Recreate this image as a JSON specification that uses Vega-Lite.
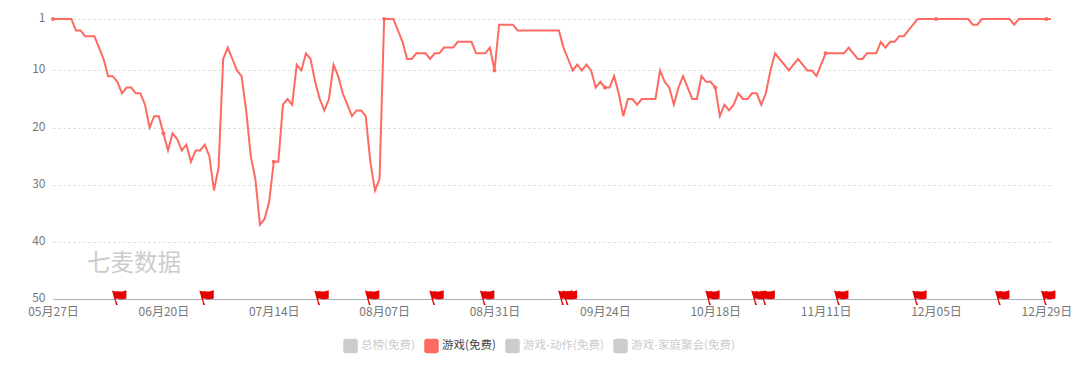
{"$schema":"https://vega.github.io/schema/vega-lite/v6.json","width":998,"height":280,"autosize":"none","padding":{"left":53,"top":19,"right":29,"bottom":77},"background":"white","config":{"font":"Noto Sans CJK SC","view":{"stroke":null}},
"datasets":{"ranks":[
{"d":"2019-05-27","r":1},{"d":"2019-05-28","r":1},{"d":"2019-05-29","r":1},{"d":"2019-05-30","r":1},{"d":"2019-05-31","r":1},
{"d":"2019-06-01","r":3},{"d":"2019-06-02","r":3},{"d":"2019-06-03","r":4},{"d":"2019-06-04","r":4},{"d":"2019-06-05","r":4},{"d":"2019-06-06","r":6},{"d":"2019-06-07","r":8},{"d":"2019-06-08","r":11},{"d":"2019-06-09","r":11},{"d":"2019-06-10","r":12},{"d":"2019-06-11","r":14},{"d":"2019-06-12","r":13},{"d":"2019-06-13","r":13},{"d":"2019-06-14","r":14},{"d":"2019-06-15","r":14},{"d":"2019-06-16","r":16},{"d":"2019-06-17","r":20},{"d":"2019-06-18","r":18},{"d":"2019-06-19","r":18},{"d":"2019-06-20","r":21},{"d":"2019-06-21","r":24},{"d":"2019-06-22","r":21},{"d":"2019-06-23","r":22},{"d":"2019-06-24","r":24},{"d":"2019-06-25","r":23},{"d":"2019-06-26","r":26},{"d":"2019-06-27","r":24},{"d":"2019-06-28","r":24},{"d":"2019-06-29","r":23},{"d":"2019-06-30","r":25},
{"d":"2019-07-01","r":31},{"d":"2019-07-02","r":27},{"d":"2019-07-03","r":8},{"d":"2019-07-04","r":6},{"d":"2019-07-05","r":8},{"d":"2019-07-06","r":10},{"d":"2019-07-07","r":11},{"d":"2019-07-08","r":17},{"d":"2019-07-09","r":25},{"d":"2019-07-10","r":29},{"d":"2019-07-11","r":37},{"d":"2019-07-12","r":36},{"d":"2019-07-13","r":33},{"d":"2019-07-14","r":26},{"d":"2019-07-15","r":26},{"d":"2019-07-16","r":16},{"d":"2019-07-17","r":15},{"d":"2019-07-18","r":16},{"d":"2019-07-19","r":9},{"d":"2019-07-20","r":10},{"d":"2019-07-21","r":7},{"d":"2019-07-22","r":8},{"d":"2019-07-23","r":12},{"d":"2019-07-24","r":15},{"d":"2019-07-25","r":17},{"d":"2019-07-26","r":15},{"d":"2019-07-27","r":9},{"d":"2019-07-28","r":11},{"d":"2019-07-29","r":14},{"d":"2019-07-30","r":16},{"d":"2019-07-31","r":18},
{"d":"2019-08-01","r":17},{"d":"2019-08-02","r":17},{"d":"2019-08-03","r":18},{"d":"2019-08-04","r":26},{"d":"2019-08-05","r":31},{"d":"2019-08-06","r":29},{"d":"2019-08-07","r":1},{"d":"2019-08-08","r":1},{"d":"2019-08-09","r":1},{"d":"2019-08-10","r":3},{"d":"2019-08-11","r":5},{"d":"2019-08-12","r":8},{"d":"2019-08-13","r":8},{"d":"2019-08-14","r":7},{"d":"2019-08-15","r":7},{"d":"2019-08-16","r":7},{"d":"2019-08-17","r":8},{"d":"2019-08-18","r":7},{"d":"2019-08-19","r":7},{"d":"2019-08-20","r":6},{"d":"2019-08-21","r":6},{"d":"2019-08-22","r":6},{"d":"2019-08-23","r":5},{"d":"2019-08-24","r":5},{"d":"2019-08-25","r":5},{"d":"2019-08-26","r":5},{"d":"2019-08-27","r":7},{"d":"2019-08-28","r":7},{"d":"2019-08-29","r":7},{"d":"2019-08-30","r":6},{"d":"2019-08-31","r":10},
{"d":"2019-09-01","r":2},{"d":"2019-09-02","r":2},{"d":"2019-09-03","r":2},{"d":"2019-09-04","r":2},{"d":"2019-09-05","r":3},{"d":"2019-09-06","r":3},{"d":"2019-09-07","r":3},{"d":"2019-09-08","r":3},{"d":"2019-09-09","r":3},{"d":"2019-09-10","r":3},{"d":"2019-09-11","r":3},{"d":"2019-09-12","r":3},{"d":"2019-09-13","r":3},{"d":"2019-09-14","r":3},{"d":"2019-09-15","r":6},{"d":"2019-09-16","r":8},{"d":"2019-09-17","r":10},{"d":"2019-09-18","r":9},{"d":"2019-09-19","r":10},{"d":"2019-09-20","r":9},{"d":"2019-09-21","r":10},{"d":"2019-09-22","r":13},{"d":"2019-09-23","r":12},{"d":"2019-09-24","r":13},{"d":"2019-09-25","r":13},{"d":"2019-09-26","r":11},{"d":"2019-09-27","r":14},{"d":"2019-09-28","r":18},{"d":"2019-09-29","r":15},{"d":"2019-09-30","r":15},
{"d":"2019-10-01","r":16},{"d":"2019-10-02","r":15},{"d":"2019-10-03","r":15},{"d":"2019-10-04","r":15},{"d":"2019-10-05","r":15},{"d":"2019-10-06","r":10},{"d":"2019-10-07","r":12},{"d":"2019-10-08","r":13},{"d":"2019-10-09","r":16},{"d":"2019-10-10","r":13},{"d":"2019-10-11","r":11},{"d":"2019-10-12","r":13},{"d":"2019-10-13","r":15},{"d":"2019-10-14","r":15},{"d":"2019-10-15","r":11},{"d":"2019-10-16","r":12},{"d":"2019-10-17","r":12},{"d":"2019-10-18","r":13},{"d":"2019-10-19","r":18},{"d":"2019-10-20","r":16},{"d":"2019-10-21","r":17},{"d":"2019-10-22","r":16},{"d":"2019-10-23","r":14},{"d":"2019-10-24","r":15},{"d":"2019-10-25","r":15},{"d":"2019-10-26","r":14},{"d":"2019-10-27","r":14},{"d":"2019-10-28","r":16},{"d":"2019-10-29","r":14},{"d":"2019-10-30","r":10},{"d":"2019-10-31","r":7},
{"d":"2019-11-01","r":8},{"d":"2019-11-02","r":9},{"d":"2019-11-03","r":10},{"d":"2019-11-04","r":9},{"d":"2019-11-05","r":8},{"d":"2019-11-06","r":9},{"d":"2019-11-07","r":10},{"d":"2019-11-08","r":10},{"d":"2019-11-09","r":11},{"d":"2019-11-10","r":9},{"d":"2019-11-11","r":7},{"d":"2019-11-12","r":7},{"d":"2019-11-13","r":7},{"d":"2019-11-14","r":7},{"d":"2019-11-15","r":7},{"d":"2019-11-16","r":6},{"d":"2019-11-17","r":7},{"d":"2019-11-18","r":8},{"d":"2019-11-19","r":8},{"d":"2019-11-20","r":7},{"d":"2019-11-21","r":7},{"d":"2019-11-22","r":7},{"d":"2019-11-23","r":5},{"d":"2019-11-24","r":6},{"d":"2019-11-25","r":5},{"d":"2019-11-26","r":5},{"d":"2019-11-27","r":4},{"d":"2019-11-28","r":4},{"d":"2019-11-29","r":3},{"d":"2019-11-30","r":2},
{"d":"2019-12-01","r":1},{"d":"2019-12-02","r":1},{"d":"2019-12-03","r":1},{"d":"2019-12-04","r":1},{"d":"2019-12-05","r":1},{"d":"2019-12-06","r":1},{"d":"2019-12-07","r":1},{"d":"2019-12-08","r":1},{"d":"2019-12-09","r":1},{"d":"2019-12-10","r":1},{"d":"2019-12-11","r":1},{"d":"2019-12-12","r":1},{"d":"2019-12-13","r":2},{"d":"2019-12-14","r":2},{"d":"2019-12-15","r":1},{"d":"2019-12-16","r":1},{"d":"2019-12-17","r":1},{"d":"2019-12-18","r":1},{"d":"2019-12-19","r":1},{"d":"2019-12-20","r":1},{"d":"2019-12-21","r":1},{"d":"2019-12-22","r":2},{"d":"2019-12-23","r":1},{"d":"2019-12-24","r":1},{"d":"2019-12-25","r":1},{"d":"2019-12-26","r":1},{"d":"2019-12-27","r":1},{"d":"2019-12-28","r":1},{"d":"2019-12-29","r":1},{"d":"2019-12-30","r":1}],
"markers":[{"d":"2019-05-27","r":1},{"d":"2019-06-20","r":21},{"d":"2019-07-14","r":26},{"d":"2019-08-07","r":1},{"d":"2019-08-31","r":10},{"d":"2019-09-24","r":13},{"d":"2019-10-18","r":13},{"d":"2019-11-11","r":7},{"d":"2019-12-05","r":1},{"d":"2019-12-29","r":1}],
"flags":[{"d":"2019-06-10","r":50},{"d":"2019-06-29","r":50},{"d":"2019-07-24","r":50},{"d":"2019-08-04","r":50},{"d":"2019-08-18","r":50},{"d":"2019-08-29","r":50},{"d":"2019-09-15","r":50},{"d":"2019-09-16","r":50},{"d":"2019-10-17","r":50},{"d":"2019-10-27","r":50},{"d":"2019-10-29","r":50},{"d":"2019-11-14","r":50},{"d":"2019-12-01","r":50},{"d":"2019-12-19","r":50},{"d":"2019-12-29","r":50}],
"mark":[{"d":"2019-06-03T10:00:00Z","r":43.8,"t":"七麦数据"}]},
"layer":[
{"data":{"name":"ranks"},"mark":{"type":"line","strokeWidth":2,"interpolate":"linear"},
"encoding":{"x":{"field":"d","type":"temporal","scale":{"type":"utc","domain":[{"year":2019,"month":5,"date":27,"utc":true},{"year":2019,"month":12,"date":30,"utc":true}]},
"axis":{"title":null,"values":[{"year":2019,"month":5,"date":27,"utc":true},{"year":2019,"month":6,"date":20,"utc":true},{"year":2019,"month":7,"date":14,"utc":true},{"year":2019,"month":8,"date":7,"utc":true},{"year":2019,"month":8,"date":31,"utc":true},{"year":2019,"month":9,"date":24,"utc":true},{"year":2019,"month":10,"date":18,"utc":true},{"year":2019,"month":11,"date":11,"utc":true},{"year":2019,"month":12,"date":5,"utc":true},{"year":2019,"month":12,"date":29,"utc":true}],"labelExpr":"utcFormat(datum.value,'%m月%d日')","grid":false,"ticks":false,"domainColor":"#aab0b8","domainWidth":1,"labelColor":"#777777","labelFontSize":12,"labelPadding":7,"labelFlush":false,"labelOverlap":false}},
"y":{"field":"r","type":"quantitative","scale":{"domain":[1,50],"reverse":true,"nice":false,"zero":false},
"axis":{"title":null,"values":[1,10,20,30,40,50],"grid":true,"gridDash":[2,3],"gridColor":"#d4d4d4","gridWidth":1,"ticks":false,"domain":false,"labelColor":"#777777","labelFontSize":12,"labelPadding":8,"labelOffset":-1.5}},
"color":{"datum":"游戏(免费)","type":"nominal","scale":{"domain":["总榜(免费)","游戏(免费)","游戏-动作(免费)","游戏-家庭聚会(免费)"],"range":["#cccccc","#fd6a62","#cccccc","#cccccc"]},
"legend":{"title":null,"orient":"none","legendX":290,"legendY":319.5,"direction":"horizontal","columns":4,"symbolSize":169,"symbolType":"M-1,-0.7A0.3,0.3 0 0 1 -0.7,-1L0.7,-1A0.3,0.3 0 0 1 1,-0.7L1,0.7A0.3,0.3 0 0 1 0.7,1L-0.7,1A0.3,0.3 0 0 1 -1,0.7Z","labelFontSize":11.5,"labelOffset":3,"columnPadding":7,"encode":{"symbols":{"update":{"fill":{"signal":"datum.value==='游戏(免费)'?'#fd6a62':'#cccccc'"},"stroke":{"value":"transparent"}}},"labels":{"update":{"fill":{"signal":"datum.value==='游戏(免费)'?'#444444':'#cccccc'"}}}}}}}},
{"data":{"name":"markers"},"mark":{"type":"point","filled":true,"size":16,"color":"#fd6a62","opacity":1},"encoding":{"x":{"field":"d","type":"temporal"},"y":{"field":"r","type":"quantitative"}}},
{"data":{"name":"flags"},"mark":{"type":"point","filled":true,"size":1600,"color":"#e60000","opacity":1,"clip":false,"shape":"M0.02,0.3L-0.07,0.3L-0.27,-0.42C-0.17,-0.37 -0.08,-0.37 0,-0.4C0.1,-0.36 0.25,-0.36 0.45,-0.44L0.45,-0.02C0.3,0.03 0.15,0.03 0,-0.03C-0.04,-0.02 -0.08,-0.02 -0.1,0Z"},"encoding":{"x":{"field":"d","type":"temporal"},"y":{"field":"r","type":"quantitative"}}},
{"data":{"name":"mark"},"mark":{"type":"text","align":"left","baseline":"middle","fontSize":23.5,"color":"#cccccc"},"encoding":{"x":{"field":"d","type":"temporal"},"y":{"field":"r","type":"quantitative"},"text":{"field":"t"}}}
]}
